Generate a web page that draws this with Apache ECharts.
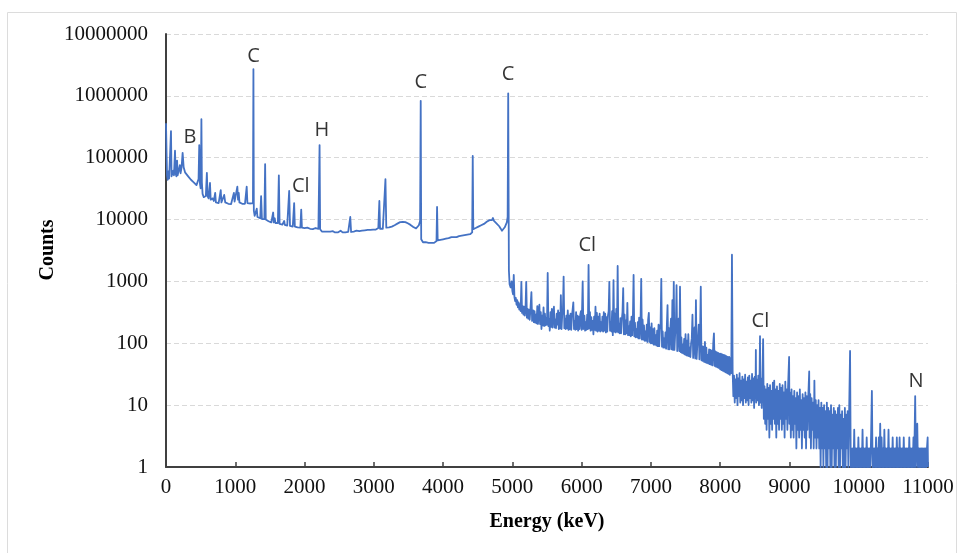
<!DOCTYPE html>
<html><head><meta charset="utf-8">
<script src="https://cdn.jsdelivr.net/npm/echarts@6/dist/echarts.min.js"></script>
<style>html,body{margin:0;padding:0;background:#fff}#c{width:962px;height:553px}</style>
</head><body><div id="c"></div>
<script>
// Energy (keV) / counts pairs
const spectrumLow = [
[0,360000],[8,120000],[15,52000],[25,44000],[35,60000],[45,46000],[55,48000],[65,43000],[72,270000],[80,50000],[95,47000],[105,62000],[115,52000],[130,130000],[140,55000],[150,50000],[160,90000],[168,52000],[185,54000],[200,76000],[210,56000],[225,70000],[240,120000],[255,70000],[275,58000],[300,54000],[320,50000],[335,52000],[345,47000],[360,44000],[380,42000],[400,40000],[420,38000],[440,36000],[460,34000],[470,45000],[480,160000],[490,38000],[500,32000],[505,60000],[511,420000],[518,40000],[528,26000],[545,23000],[560,22000],[575,24000],[590,57000],[600,24000],[615,22000],[625,21000],[635,39000],[645,21000],[660,20000],[675,22000],[690,20000],[700,19500],[710,27000],[720,19000],[740,19000],[760,18500],[780,19000],[790,30000],[800,19000],[820,18500],[840,25000],[855,19000],[880,18500],[900,18000],[920,18200],[940,17800],[960,18500],[980,27000],[990,19500],[1010,20000],[1030,34000],[1040,21000],[1050,27000],[1060,19000],[1080,18500],[1100,18000],[1120,18200],[1140,18000],[1155,18500],[1165,34000],[1175,18500],[1200,18000],[1220,18200],[1240,18000],[1255,18500],[1262,2700000],[1268,14000],[1280,11500],[1300,11000],[1310,15000],[1320,11000],[1340,10500],[1360,10500],[1373,24000],[1385,10200],[1400,10000],[1420,10200],[1431,79000],[1440,10000],[1460,9600],[1480,9400],[1500,9500],[1520,9000],[1535,9200],[1547,13000],[1555,9000],[1570,10500],[1580,8800],[1600,8700],[1615,8800],[1629,52000],[1640,8500],[1660,8400],[1680,8300],[1695,8400],[1706,9500],[1715,8200],[1730,8100],[1750,8000],[1765,8000],[1778,29000],[1790,7900],[1810,7800],[1830,7700],[1850,18500],[1860,7700],[1880,7600],[1900,7500],[1920,7500],[1940,7400],[1952,14500],[1962,7400],[1980,7300],[2000,7300],[2020,7200],[2040,7400],[2060,7100],[2080,7100],[2100,7300],[2120,7000],[2140,7000],[2160,7300],[2180,7000],[2200,7100],[2210,7400],[2217,160000],[2225,7000],[2235,6700],[2250,6400],[2270,6300],[2290,6400],[2310,6300],[2330,6400],[2350,6300],[2370,6400],[2390,6200],[2410,6500],[2420,6200],[2440,6200],[2460,6300],[2480,6200],[2500,6200],[2520,6600],[2530,6200],[2550,6200],[2570,6300],[2590,6200],[2610,6300],[2630,6300],[2645,6400],[2660,11000],[2672,6300],[2690,6300],[2710,6400],[2730,6400],[2750,6600],[2770,6400],[2790,6500],[2810,6500],[2830,6600],[2850,6600],[2870,6700],[2890,6700],[2910,6800],[2930,6900],[2950,6800],[2970,7000],[2990,6900],[3010,7000],[3030,6900],[3050,7100],[3065,7300],[3080,20000],[3090,7100],[3110,7200],[3130,7100],[3150,7300],[3168,45000],[3180,7400],[3200,7400],[3220,7500],[3240,7600],[3260,7700],[3280,7900],[3300,8100],[3320,8300],[3340,8600],[3360,8900],[3380,9100],[3400,9400],[3420,9200],[3440,9700],[3455,9100],[3470,9300],[3490,8700],[3510,8500],[3530,8200],[3550,7900],[3570,7600],[3590,7400],[3610,7200],[3630,7500],[3650,8100],[3668,9500],[3677,830000],[3684,4800],[3695,4500],[3710,4300],[3730,4200],[3750,4300],[3770,4200],[3790,4200],[3810,4300],[3830,4200],[3850,4300],[3870,4200],[3890,4400],[3905,4500],[3913,16000],[3922,4600],[3940,4600],[3960,4700],[3980,4700],[4000,4800],[4020,4800],[4040,4900],[4060,4900],[4080,5000],[4100,5000],[4120,5200],[4140,5100],[4160,5200],[4180,5500],[4195,5200],[4210,5300],[4230,5400],[4250,5500],[4270,5500],[4290,5600],[4310,5600],[4330,5700],[4350,5700],[4370,5800],[4390,5800],[4410,5900],[4420,6200],[4428,107000],[4436,7000],[4450,7200],[4470,7300],[4490,7500],[4510,7700],[4530,7900],[4550,8100],[4570,8300],[4590,8500],[4610,8800],[4630,9200],[4650,9500],[4670,9800],[4690,10200],[4705,9800],[4720,10600],[4735,9500],[4750,9000],[4770,8700],[4790,8300],[4810,7800],[4830,7200],[4850,6600],[4862,6300],[4875,6800],[4890,7500],[4905,8200],[4920,9000],[4932,11000],[4940,1100000]
];
const spectrumMid = [
[4950,1500],[4960,900],[4975,800],[4990,1000],[5000,700],[5010,620],[5020,1270],[5030,560],[5040,480],[5050,540],[5060,420],[5070,500],[5080,380],[5090,460],[5100,350],[5110,430],[5120,330],[5130,980],[5140,310],[5150,400],[5160,290],[5170,390],[5180,280],[5190,370],[5200,980],[5210,260],[5220,360],[5230,250],[5240,350],[5250,240],[5260,340],[5275,670],[5285,230],[5300,340],[5310,220],[5320,330],[5330,215],[5340,290],[5350,210],[5360,400],[5370,205],[5380,330],[5390,420],[5400,205],[5410,320],[5420,170],[5430,280],[5440,195],[5450,380],[5460,190],[5470,300],[5480,195],[5490,260],[5500,200],[5510,1370],[5520,190],[5530,250],[5540,160],[5550,320],[5560,185],[5570,360],[5580,180],[5590,300],[5600,390],[5610,180],[5620,240],[5630,175],[5640,300],[5650,200],[5660,340],[5670,170],[5680,310],[5690,175],[5700,600],[5710,170],[5720,290],[5730,350],[5740,1200],[5750,175],[5760,250],[5770,170],[5780,280],[5790,175],[5800,340],[5810,165],[5820,280],[5830,170],[5840,300],[5850,165],[5860,280],[5870,350],[5880,460],[5890,170],[5900,230],[5910,165],[5920,320],[5930,170],[5940,280],[5950,160],[5960,270],[5970,170],[5980,290],[5990,330],[6000,165],[6015,1000],[6025,170],[6040,280],[6050,160],[6060,220],[6070,165],[6080,290],[6090,170],[6100,1850],[6110,175],[6120,320],[6130,160],[6140,265],[6150,165],[6160,230],[6170,140],[6180,270],[6190,165],[6200,390],[6210,160],[6220,310],[6230,155],[6240,270],[6250,160],[6260,300],[6270,155],[6280,220],[6290,160],[6300,270],[6310,155],[6320,320],[6330,160],[6340,300],[6350,150],[6360,265],[6370,155],[6380,280],[6390,330],[6400,980],[6410,160],[6420,215],[6430,155],[6440,330],[6450,135],[6460,1050],[6470,155],[6480,300],[6490,150],[6500,360],[6510,155],[6520,1780],[6530,150],[6540,210],[6550,145],[6560,255],[6570,145],[6580,240],[6590,320],[6600,780],[6610,140],[6620,290],[6630,140],[6640,235],[6650,145],[6660,450],[6670,135],[6680,190],[6690,135],[6700,225],[6710,130],[6720,270],[6730,135],[6740,260],[6750,1270],[6760,130],[6770,215],[6780,125],[6790,170],[6800,125],[6810,220],[6820,120],[6830,260],[6840,120],[6850,210],[6860,1100],[6870,115],[6880,240],[6890,115],[6900,195],[6910,110],[6920,155],[6930,110],[6940,200],[6950,105],[6960,240],[6970,310],[6980,105],[6990,180],[7000,100],[7010,210],[7020,100],[7030,170],[7040,95],[7050,175],[7060,95],[7070,135],[7080,92],[7090,160],[7100,90],[7110,200],[7120,90],[7130,170],[7140,210],[7150,1100],[7160,88],[7170,155],[7180,85],[7190,120],[7200,85],[7210,150],[7220,82],[7230,190],[7240,415],[7250,80],[7260,175],[7270,80],[7280,170],[7290,250],[7300,80],[7310,500],[7320,78],[7330,980],[7340,78],[7350,140],[7360,180],[7370,870],[7380,75],[7390,140],[7400,250],[7410,75],[7420,820],[7430,72],[7440,125],[7450,70],[7460,95],[7470,68],[7480,118],[7490,66],[7500,140],[7510,64],[7520,110],[7530,63],[7540,140],[7550,62],[7560,85],[7570,60],[7580,100],[7590,120],[7600,290],[7610,58],[7620,100],[7630,180],[7640,57],[7650,500],[7660,56],[7670,95],[7680,120],[7690,200],[7700,55],[7710,150],[7720,820],[7730,53],[7740,90],[7750,52],[7760,88],[7770,50],[7780,105],[7790,49],[7800,85],[7810,48],[7820,65],[7830,47],[7840,80],[7850,46],[7860,78],[7870,45],[7880,76],[7890,44],[7900,100],[7910,145],[7920,43],[7930,74],[7940,42],[7950,72],[7960,41],[7970,70],[7980,40],[7990,68],[8000,38],[8010,68],[8020,37],[8030,66],[8040,36],[8050,65],[8060,35],[8070,64],[8080,34],[8090,62],[8100,33],[8110,60],[8120,32],[8130,60],[8140,31],[8150,58],[8160,33],[8170,2700]
];
const spectrumHigh = [
[8180,35],[8190,14],[8200,30],[8210,11],[8220,26],[8230,13],[8240,31],[8250,10],[8260,27],[8270,14],[8280,33],[8290,11],[8300,25],[8310,12],[8320,29],[8330,10],[8340,26],[8350,13],[8360,31],[8370,11],[8380,24],[8390,12],[8400,28],[8410,10],[8420,30],[8430,13],[8440,25],[8450,11],[8460,32],[8470,12],[8480,27],[8490,9],[8500,29],[8510,13],[8515,78],[8520,11],[8530,26],[8540,12],[8550,30],[8560,10],[8570,40],[8575,130],[8580,11],[8590,27],[8600,9],[8610,30],[8620,117],[8630,6],[8640,20],[8650,5],[8660,18],[8670,4],[8680,22],[8690,6],[8700,19],[8710,3],[8720,21],[8730,5],[8740,17],[8750,4],[8760,23],[8770,6],[8780,25],[8790,5],[8800,18],[8810,3],[8820,20],[8830,5],[8840,17],[8850,4],[8860,22],[8870,6],[8880,19],[8890,4],[8900,21],[8910,5],[8920,16],[8930,3],[8940,24],[8950,6],[8960,18],[8970,4],[8980,20],[8995,60],[9000,5],[9010,16],[9020,3],[9030,18],[9040,4],[9050,14],[9060,3],[9070,17],[9080,5],[9090,13],[9100,2],[9110,16],[9120,4],[9130,14],[9140,3],[9150,18],[9160,4],[9170,12],[9180,2],[9190,15],[9200,4],[9210,13],[9220,3],[9230,16],[9240,2],[9250,14],[9260,4],[9270,12],[9285,35],[9290,3],[9300,15],[9310,2],[9320,13],[9330,4],[9340,11],[9350,2],[9360,25],[9370,3],[9380,12],[9390,2],[9400,10],[9410,3],[9420,12],[9430,2],[9440,9],[9450,1],[9460,11],[9470,2],[9480,9],[9490,1],[9500,10],[9510,2],[9520,8],[9530,1],[9540,11],[9550,1],[9560,9],[9570,2],[9580,8],[9590,1],[9600,10],[9610,1],[9620,7],[9630,2],[9640,9],[9650,1],[9660,8],[9670,1],[9680,7],[9690,2],[9700,9],[9710,1],[9720,10],[9730,1],[9740,7],[9750,2],[9760,8],[9770,1],[9780,6],[9790,1],[9800,9],[9810,1],[9820,7],[9830,2],[9840,8],[9850,1],[9860,6],[9875,75],[9885,1],[9895,2],[9905,1],[9915,2],[9925,1],[9935,4],[9945,1],[9955,2],[9965,1],[9975,2],[9985,1],[9995,3],[10005,1],[10015,2],[10025,1],[10035,2],[10045,1],[10055,4],[10065,1],[10075,2],[10085,1],[10095,2],[10105,1],[10115,3],[10125,1],[10135,2],[10145,1],[10155,2],[10165,1],[10175,2],[10190,17],[10200,1],[10210,2],[10220,1],[10230,2],[10240,1],[10250,3],[10260,1],[10270,2],[10280,1],[10290,3],[10300,1],[10310,5],[10320,1],[10330,3],[10340,1],[10350,2],[10360,1],[10370,4],[10380,1],[10390,2],[10400,1],[10410,2],[10420,1],[10430,4],[10440,1],[10450,2],[10460,1],[10470,2],[10480,1],[10490,3],[10500,1],[10510,2],[10520,1],[10530,2],[10540,1],[10550,3],[10560,1],[10570,2],[10580,1],[10590,3],[10600,1],[10610,2],[10620,1],[10630,2],[10640,1],[10650,3],[10660,1],[10670,2],[10680,1],[10690,2],[10700,1],[10710,2],[10720,1],[10730,3],[10740,1],[10750,2],[10760,1],[10770,2],[10780,1],[10790,3],[10800,1],[10815,14],[10825,1],[10835,2],[10845,5],[10855,1],[10865,2],[10875,1],[10885,2],[10895,1],[10905,2],[10915,1],[10925,2],[10935,1],[10945,2],[10955,1],[10965,2],[10975,1],[10985,2],[10995,3],[11000,1]
];
const peakLabels = ['B','C','H','Cl','C','C','Cl','Cl','N'];
const peakLabelEnergy = [347,1265,2251,1945,3679,4937,6082,8580,10828];
const peakLabelCounts = [216000,4400000,275000,34900,1640000,2260000,3810,225,24];
const yAxisTitle = 'Counts';
const xAxisTitle = 'Energy (keV)';

const serif = "'Liberation Serif','Times New Roman',serif";
const chart = echarts.init(document.getElementById('c'), null, {renderer:'canvas'});
chart.setOption({
  animation: false,
  backgroundColor: '#fff',
  graphic: [
    {type:'rect', shape:{x:7.5,y:12.5,width:949,height:560}, style:{fill:'none',stroke:'#dcdcdc',lineWidth:1}, silent:true},
    {type:'text', x:48, y:250, rotation:Math.PI/2, silent:true,
     style:{text:yAxisTitle, align:'center', verticalAlign:'middle', font:"bold 20px 'Liberation Serif','Times New Roman',serif", fill:'#000'}}
  ],
  grid: {left:166, right:34, top:34, bottom:86, containLabel:false, outerBoundsMode:'none'},
  xAxis: {
    type:'value', min:0, max:11000, interval:1000,
    name:xAxisTitle, nameLocation:'middle', nameGap:45,
    nameTextStyle:{fontFamily:serif, fontSize:20, fontWeight:'bold', color:'#000'},
    axisLine:{show:true, lineStyle:{color:'#404040', width:2}},
    axisTick:{show:true, inside:true, length:5, lineStyle:{color:'#404040', width:1.5}},
    axisLabel:{fontFamily:serif, fontSize:21, color:'#111', margin:10, formatter:v=>String(v)},
    splitLine:{show:false}
  },
  yAxis: {
    type:'log', logBase:10, min:1, max:10000000,
    axisLine:{show:true, lineStyle:{color:'#404040', width:2}},
    axisTick:{show:false},
    axisLabel:{fontFamily:serif, fontSize:21, color:'#111', margin:18, formatter:v=>String(Math.round(v))},
    splitLine:{show:true, lineStyle:{color:'#d9d9d9', type:[5,3], width:1}}
  },
  series: [
    {
      type:'line', data: spectrumLow.concat(spectrumMid, spectrumHigh),
      showSymbol:false, symbol:'none', sampling:null, clip:true,
      lineStyle:{color:'#4472C4', width:1.8, join:'round'}, z:2
    },
    {
      type:'scatter', symbolSize:0, silent:true, z:5,
      data: peakLabels.map((t,i)=>({name:t, value:[peakLabelEnergy[i], peakLabelCounts[i]]})),
      label:{show:true, position:'inside', formatter:'{b}', fontFamily:"'Open Sans','Noto Sans',sans-serif", fontSize:20, color:'#000'}
    }
  ]
});
</script></body></html>
